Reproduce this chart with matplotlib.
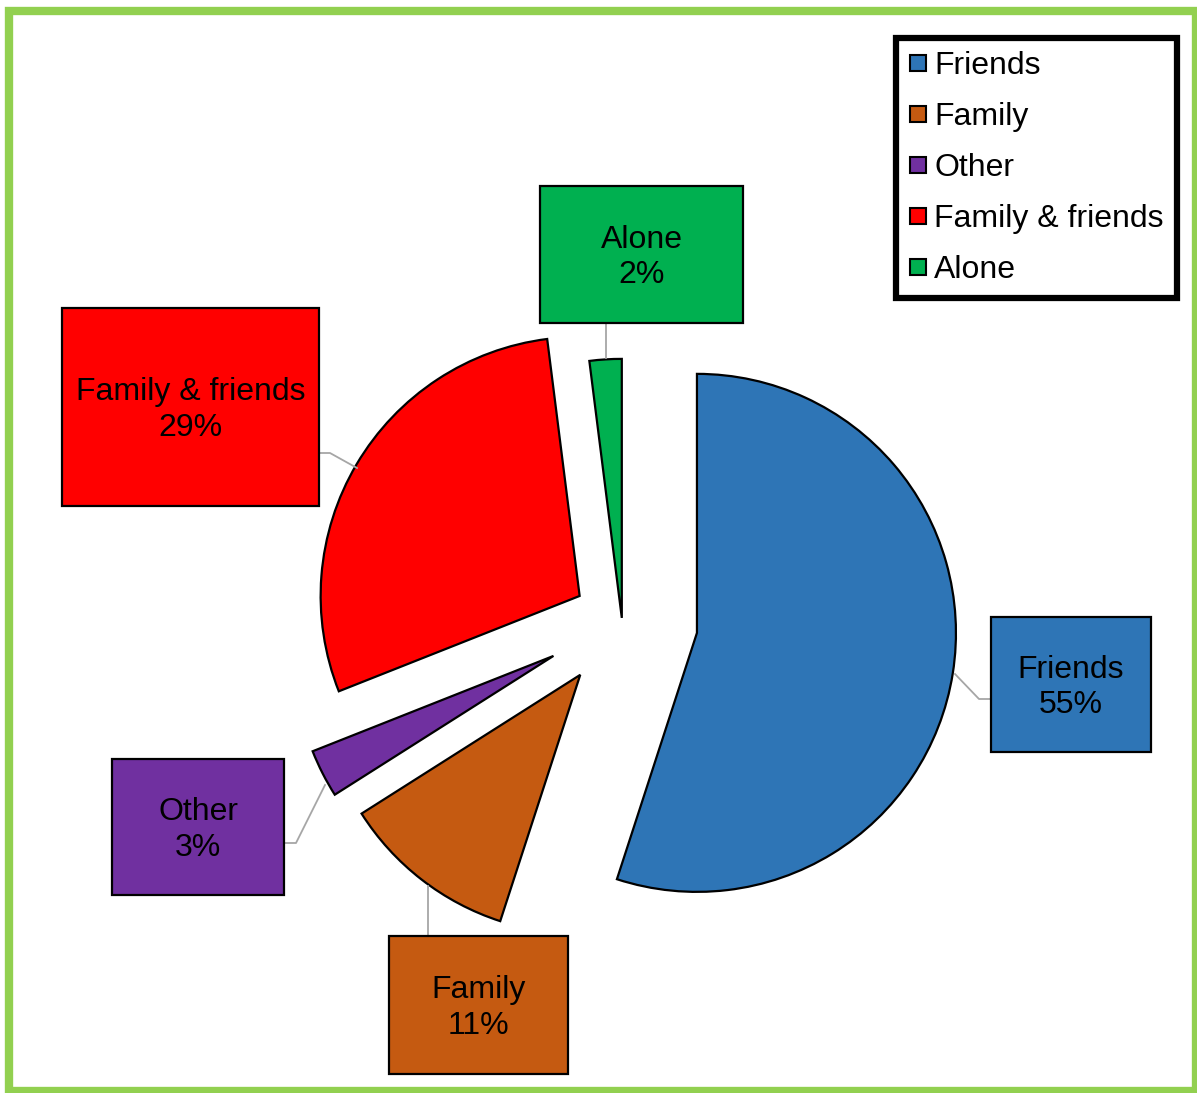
import matplotlib
matplotlib.use("Agg")
import matplotlib.pyplot as plt
from matplotlib.patches import Rectangle
from matplotlib.lines import Line2D
from matplotlib.transforms import Affine2D

plt.rcParams['font.family'] = ['Liberation Sans', 'DejaVu Sans']

# Who people spend time with
categories = ['Friends', 'Family', 'Other', 'Family & friends', 'Alone']
shares = [55, 11, 3, 29, 2]
colors = ['#2E75B6', '#C55A11', '#7030A0', '#FF0000', '#00B050']
explode = [0.293, 0.263, 0.297, 0.19, 0.012]

W, H = 1197, 1093
fig = plt.figure(figsize=(W / 100, H / 100), dpi=100)
ax = fig.add_axes([0, 0, 1, 1])

# pie drawn in unit space, then moved into pixel space (y measured from top)
R = 259
cx, cy = 622, 621
wedges, _ = ax.pie(shares, colors=colors, explode=explode, startangle=90,
                   counterclock=False, radius=1, center=(0, 0),
                   wedgeprops=dict(edgecolor='black', linewidth=1.6))
to_px = Affine2D().scale(R, -R).translate(cx, cy) + ax.transData
for w in wedges:
    w.set_transform(to_px)

ax.set_xlim(0, W)
ax.set_ylim(H, 0)
ax.set_aspect('auto')
ax.axis('off')

# label boxes: (x0, y0, x1, y1) in pixels
boxes = [(991, 617, 1151, 752), (389, 936, 568, 1074), (112, 759, 284, 895),
         (62, 308, 319, 506), (540, 186, 743, 323)]
leaders = [[(955, 674), (979, 699), (991, 699)],
           [(428, 886), (428, 936)],
           [(325, 785), (296, 843), (284, 843)],
           [(357, 468), (330, 453), (319, 453)],
           [(606, 358), (606, 323)]]

for name, val, col, (x0, y0, x1, y1), pts in zip(categories, shares, colors, boxes, leaders):
    xs, ys = zip(*pts)
    ax.plot(xs, ys, color='#A6A6A6', lw=1.3, zorder=1)
    ax.add_patch(Rectangle((x0, y0), x1 - x0, y1 - y0, facecolor=col,
                           edgecolor='black', lw=1.6, zorder=3))
    ax.text((x0 + x1) / 2, (y0 + y1) / 2 + 3, f"{name}\n{val}%", ha='center', va='center',
            fontsize=23, linespacing=1.25, color='black', zorder=4)

handles = [Line2D([], [], marker='s', linestyle='none', markersize=11,
                  markerfacecolor=c, markeredgecolor='black', markeredgewidth=1.5)
           for c in colors]
leg = ax.legend(handles, categories, loc='upper left',
                bbox_to_anchor=(896 / W, 1 - 38 / H), bbox_transform=ax.transAxes,
                fontsize=23, frameon=True, fancybox=False, edgecolor='black',
                framealpha=1, handlelength=0.55, handletextpad=0.25, labelspacing=0.66,
                borderpad=0.4, borderaxespad=0)
leg.get_frame().set_linewidth(4.5)

# green outline around the whole chart
ax.add_patch(Rectangle((9, 10.5), 1186.5, 1080, fill=False, edgecolor='#92D050',
                       lw=6, zorder=5, clip_on=False))

fig.savefig('out.png', dpi=100)
